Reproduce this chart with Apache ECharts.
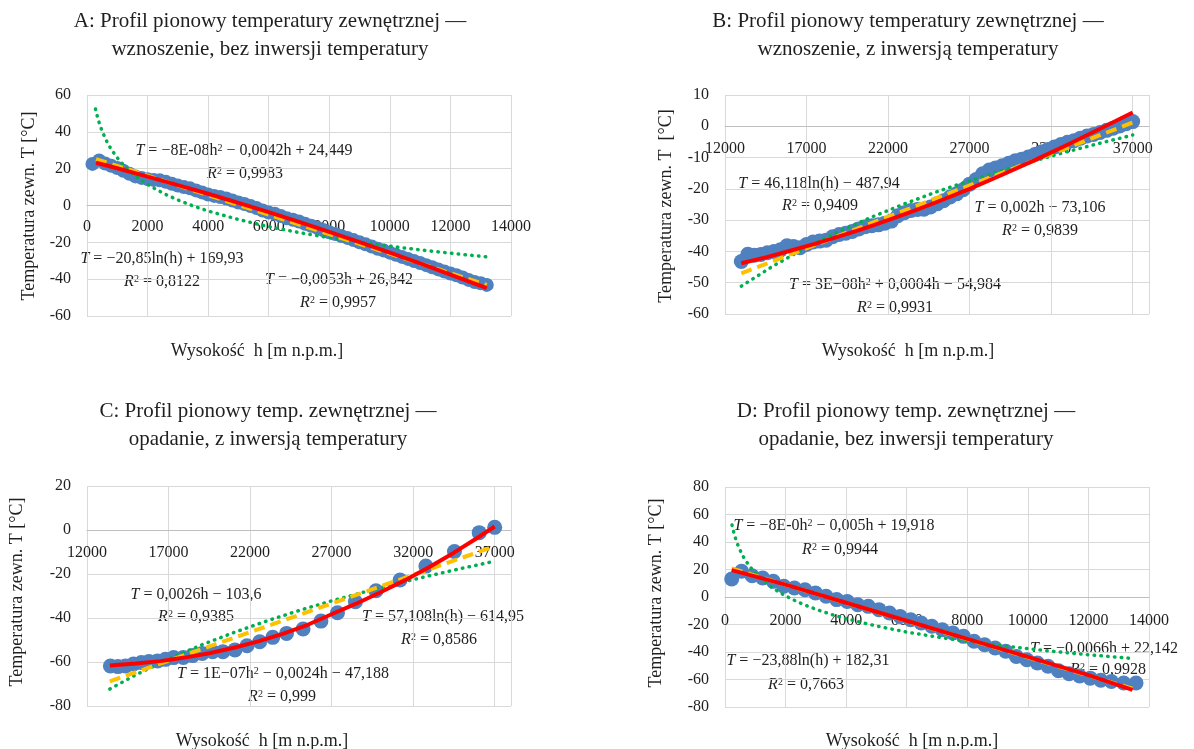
<!DOCTYPE html>
<html>
<head>
<meta charset="utf-8">
<script src="https://cdn.jsdelivr.net/npm/echarts@6/dist/echarts.min.js"></script>
<style>
  html, body { margin: 0; background: #fff; }
  #chart { width: 1194px; height: 749px; }
</style>
</head>
<body>
<div id="chart"></div>
<script>
// A: wznoszenie, bez inwersji  [h, T]
const aPoints = [[180,22.6],[400,24.4],[600,22.8],[800,21.6],[1000,20.4],[1200,18.9],[1400,17.2],[1600,15.8],[1800,15.0],[2000,14.3],[2200,13.9],[2400,13.7],[2600,12.9],[2800,11.8],[3000,10.8],[3200,10.0],[3400,9.3],[3600,8.2],[3800,7.1],[4000,6.0],[4200,5.2],[4400,4.6],[4600,3.8],[4800,2.7],[5000,1.6],[5200,0.8],[5400,-0.3],[5600,-1.4],[5800,-2.7],[6000,-3.8],[6200,-4.5],[6400,-5.7],[6600,-6.9],[6800,-7.7],[7000,-8.7],[7200,-9.9],[7400,-11.0],[7600,-12.1],[7800,-13.3],[8000,-14.5],[8200,-15.5],[8400,-16.6],[8600,-17.6],[8800,-18.8],[9000,-20.0],[9200,-21.1],[9400,-22.3],[9600,-23.5],[9800,-24.5],[10000,-25.6],[10200,-26.8],[10400,-27.9],[10600,-29.0],[10800,-30.1],[11000,-31.2],[11200,-32.4],[11400,-33.5],[11600,-34.7],[11800,-35.8],[12000,-36.9],[12200,-37.9],[12400,-39.1],[12600,-40.4],[12800,-41.5],[13000,-42.2],[13200,-43.1]]
const aPoly = [[300,23.2],[1000,20.2],[2000,15.7],[3000,11.1],[4000,6.4],[5000,1.4],[6000,-3.6],[7000,-8.9],[8000,-14.3],[9000,-19.9],[10000,-25.6],[11000,-31.4],[12000,-37.5],[13200,-44.9]]
const aLin = [[300,25.2],[13200,-43.1]]
const aLog = [[280,52.4],[330,49.0],[400,45.0],[480,41.2],[600,36.6],[700,33.3],[800,30.5],[1000,25.9],[1200,22.1],[1500,17.4],[1800,13.6],[2200,9.5],[2600,6.0],[3000,3.0],[3500,-0.2],[4000,-3.0],[5000,-7.6],[6000,-11.5],[7000,-14.7],[8000,-17.5],[9000,-19.9],[10000,-22.1],[11000,-24.1],[12000,-25.9],[13200,-27.9]]

// B: wznoszenie, z inwersją
const bPoints = [[13000,-43.2],[13400,-40.9],[13800,-41.2],[14200,-41.0],[14600,-40.4],[15000,-40.0],[15400,-39.5],[15800,-38.2],[16200,-38.4],[16600,-38.8],[17000,-37.8],[17400,-37.0],[17800,-36.7],[18200,-36.4],[18600,-35.3],[19000,-34.6],[19400,-34.2],[19800,-33.6],[20200,-32.8],[20600,-32.1],[21000,-31.8],[21400,-31.5],[21800,-31.0],[22200,-30.3],[22600,-28.6],[23000,-27.6],[23400,-26.9],[23800,-26.6],[24200,-26.5],[24600,-25.8],[25000,-24.8],[25400,-23.8],[25800,-22.6],[26200,-21.6],[26600,-20.3],[27000,-18.5],[27400,-17.0],[27800,-15.2],[28200,-14.0],[28600,-13.3],[29000,-12.6],[29400,-11.8],[29800,-11.0],[30200,-10.5],[30600,-9.8],[31000,-9.0],[31400,-8.2],[31800,-7.4],[32200,-6.6],[32600,-5.8],[33000,-5.1],[33400,-4.6],[33800,-3.8],[34200,-3.1],[34600,-2.6],[35000,-2.0],[35400,-1.3],[35800,-0.6],[36200,0.1],[36600,0.8],[37000,1.5]]
const bPoly = [[13000,-43.8],[14500,-41.9],[16000,-39.8],[17500,-37.6],[19000,-35.2],[20500,-32.7],[22000,-30.0],[23500,-27.2],[25000,-24.2],[27000,-20.0],[29000,-15.5],[31000,-10.8],[33000,-5.9],[35000,-0.8],[37000,4.4]]
const bLin = [[13000,-47.0],[37000,1.2]]
const bLog = [[13000,-51.1],[15000,-44.5],[17000,-38.7],[19000,-33.6],[21000,-29.0],[23000,-24.8],[25000,-20.9],[27000,-17.4],[29000,-14.1],[31000,-11.0],[33000,-8.1],[35000,-5.4],[37000,-2.8]]

// C: opadanie, z inwersją
const cPoints = [[13435,-61.8],[13899,-62.1],[14363,-61.8],[14848,-60.9],[15333,-60.2],[15797,-59.8],[16325,-59.5],[16810,-58.8],[17316,-58.0],[17907,-57.9],[18477,-57.1],[19068,-56.1],[19700,-55.3],[20333,-55.3],[21072,-54.5],[21810,-52.6],[22591,-50.8],[23392,-48.8],[24236,-47.0],[25249,-45.0],[26346,-41.4],[27359,-37.6],[28456,-32.6],[29722,-27.6],[31198,-22.7],[32781,-16.4],[34532,-9.8],[36051,-1.2],[37000,1.2]]
const cPoly = [[13400,-61.6],[15000,-60.7],[16500,-59.6],[18000,-58.0],[19500,-56.0],[21000,-53.5],[22500,-50.6],[24000,-47.2],[25500,-43.2],[27000,-38.3],[28500,-33.5],[30000,-28.3],[31500,-22.8],[33000,-16.8],[34500,-10.3],[36000,-3.3],[37000,1.6]]
const cLin = [[13400,-68.8],[37000,-7.4]]
const cLog = [[13400,-72.3],[15000,-65.8],[17000,-58.7],[19000,-52.3],[21000,-46.6],[23000,-41.4],[25000,-36.6],[27000,-32.2],[29000,-28.2],[31000,-24.3],[33000,-20.8],[35000,-17.4],[37000,-14.2]]

// D: opadanie, bez inwersji
const dPoints = [[221,13.1],[547,18.7],[895,15.5],[1244,13.8],[1593,11.4],[1942,7.8],[2291,6.5],[2640,5.3],[2989,2.9],[3338,0.5],[3687,-1.9],[4036,-3.2],[4384,-5.6],[4733,-6.8],[5082,-9.2],[5431,-11.6],[5780,-14.1],[6129,-16.5],[6478,-18.9],[6827,-21.3],[7176,-23.8],[7525,-26.2],[7874,-28.6],[8222,-32.2],[8571,-34.7],[8920,-37.1],[9269,-39.5],[9618,-43.2],[9967,-45.6],[10316,-48.0],[10665,-50.4],[11013,-53.6],[11362,-55.8],[11711,-57.5],[12060,-59.0],[12409,-60.5],[12758,-61.5],[13165,-62.5],[13572,-62.5]]
const dPoly = [[221,19.5],[2000,9.0],[4000,-4.2],[6000,-17.3],[8000,-30.4],[10000,-43.5],[12000,-56.8],[13456,-67.5]]
const dLin = [[221,20.7],[13456,-66.7]]
const dLog = [[230,52.4],[270,48.6],[330,43.8],[400,39.2],[480,34.9],[600,29.5],[700,25.9],[800,22.7],[1000,17.3],[1200,13.0],[1500,7.7],[1800,3.3],[2200,-1.5],[2600,-5.5],[3000,-8.9],[3500,-12.6],[4000,-15.8],[5000,-21.1],[6000,-25.5],[7000,-29.1],[8000,-32.3],[9000,-35.1],[10000,-37.6],[11000,-39.9],[12000,-42.0],[13450,-44.7]]

const titles = [
  'A: Profil pionowy temperatury zewnętrznej —\nwznoszenie, bez inwersji temperatury',
  'B: Profil pionowy temperatury zewnętrznej —\nwznoszenie, z inwersją temperatury',
  'C: Profil pionowy temp. zewnętrznej —\nopadanie, z inwersją temperatury',
  'D: Profil pionowy temp. zewnętrznej —\nopadanie, bez inwersji temperatury'
]
const xTitle = 'Wysokość  h [m n.p.m.]'
const yTitles = ['Temperatura zewn. T [°C]', 'Temperatura zewn. T  [°C]', 'Temperatura zewn. T [°C]', 'Temperatura zewn. T [°C]']
// [equation, R²] per panel
const equations = [
  [['{i|T} = −8E-08h{s|2} − 0,0042h + 24,449', '0,9983'], ['{i|T} = −20,85ln(h) + 169,93', '0,8122'], ['{i|T} = −0,0053h + 26,842', '0,9957']],
  [['{i|T} = 46,118ln(h) − 487,94', '0,9409'], ['{i|T} = 0,002h − 73,106', '0,9839'], ['{i|T} = 3E−08h{s|2} + 0,0004h − 54,984', '0,9931']],
  [['{i|T} = 0,0026h − 103,6', '0,9385'], ['{i|T} = 57,108ln(h) − 614,95', '0,8586'], ['{i|T} = 1E−07h{s|2} − 0,0024h − 47,188', '0,999']],
  [['{i|T} = −8E-0h{s|2} − 0,005h + 19,918', '0,9944'], ['{i|T} = −23,88ln(h) + 182,31', '0,7663'], ['{i|T} = −0,0066h + 22,142', '0,9928']]
]

const FONT = 'Liberation Serif'
const INK = '#1f1f1f'
const BLUE = '#4f80c0'

const grids = [
  { left: 87, top: 95, width: 424, height: 221 },
  { left: 725, top: 95, width: 424, height: 219 },
  { left: 87, top: 486, width: 424, height: 220 },
  { left: 725, top: 487, width: 424, height: 220 }
]
const xRanges = [[0, 14000, 2000], [12000, 38000, 5000], [12000, 38000, 5000], [0, 14000, 2000]]
const yRanges = [[-60, 60, 20], [-60, 10, 10], [-80, 20, 20], [-80, 80, 20]]
const xMargins = [13, 15, 15, 16]
const markerSizes = [14, 15, 15, 15]

// label positions [x, y] for equation and R² lines
const eqPos = [
  [[244, 151, 245, 174], [162, 259, 162, 282], [339, 280, 338, 303]],
  [[819, 184, 820, 206], [1040, 208, 1040, 231], [895, 285, 895, 308]],
  [[196, 595, 196, 617], [443, 617, 439, 640], [283, 674, 282, 697]],
  [[834, 526, 840, 550], [808, 661, 806, 685], [1104, 649, 1108, 670]]
]
const titlePos = [[270, 35], [908, 35], [268, 425], [906, 425]]
const xTitlePos = [[257, 351], [908, 351], [262, 741], [912, 741]]
const yTitlePos = [[29, 206], [666, 206], [17, 592], [656, 593]]

const rich = {
  i: { fontFamily: FONT, fontSize: 16, fontStyle: 'italic', fill: INK, color: INK },
  s: { fontFamily: FONT, fontSize: 10, verticalAlign: 'top', fill: INK, color: INK }
}

function text(x, y, str, size, extra) {
  return Object.assign({
    type: 'text', x: x, y: y, silent: true,
    style: {
      text: str, fill: INK, fontFamily: FONT, fontSize: size,
      align: 'center', verticalAlign: 'middle', textAlign: 'center', textVerticalAlign: 'middle',
      rich: rich
    }
  }, extra || {})
}

const graphics = []
for (let k = 0; k < 4; k++) {
  const t = text(titlePos[k][0], titlePos[k][1], titles[k], 21)
  t.style.lineHeight = 28
  graphics.push(t)
  graphics.push(text(xTitlePos[k][0], xTitlePos[k][1], xTitle, 18))
  graphics.push(text(yTitlePos[k][0], yTitlePos[k][1], yTitles[k], 18, { rotation: Math.PI / 2 }))
  equations[k].forEach((eq, j) => {
    const p = eqPos[k][j]
    graphics.push(text(p[0], p[1], eq[0], 16))
    graphics.push(text(p[2], p[3], '{i|R}{s|2} = ' + eq[1], 16))
  })
}

// x axis sits on T = 0: shift it up from the bottom of its grid
const xAxes = grids.map((g, k) => ({
  type: 'value', gridIndex: k,
  min: xRanges[k][0], max: xRanges[k][1], interval: xRanges[k][2],
  offset: -g.height * (0 - yRanges[k][0]) / (yRanges[k][1] - yRanges[k][0]),
  axisLine: { show: true, onZero: false, lineStyle: { color: '#bfbfbf', width: 1 } },
  axisTick: { show: false },
  axisLabel: {
    margin: xMargins[k], color: INK, fontFamily: FONT, fontSize: 16,
    showMaxLabel: xRanges[k][1] === 14000,
    formatter: (v) => String(v)
  },
  splitLine: { show: true, lineStyle: { color: '#d9d9d9', width: 1 } }
}))

const yAxes = grids.map((g, k) => ({
  type: 'value', gridIndex: k,
  min: yRanges[k][0], max: yRanges[k][1], interval: yRanges[k][2],
  axisLine: { show: false, onZero: false },
  axisTick: { show: false },
  axisLabel: { margin: 16, color: INK, fontFamily: FONT, fontSize: 16 },
  splitLine: { show: true, lineStyle: { color: '#d9d9d9', width: 1 } }
}))

function scatter(k, data) {
  return {
    type: 'scatter', xAxisIndex: k, yAxisIndex: k, data: data,
    symbol: 'circle', symbolSize: markerSizes[k], silent: true, z: 2,
    itemStyle: { color: BLUE, opacity: 1, borderWidth: 0 }
  }
}
function trend(k, data, lineStyle, z) {
  return {
    type: 'line', xAxisIndex: k, yAxisIndex: k, data: data,
    showSymbol: false, symbol: 'none', smooth: false,
    silent: true, z: z, lineStyle: lineStyle
  }
}
const redStyle = { color: '#ff0000', width: 4, join: 'round' }
const yellowStyle = { color: '#ffc000', width: 4, type: [11, 6] }
const greenStyle = { color: '#00b050', width: 3.5, type: [0.5, 6.3], cap: 'round' }

const sets = [
  [aPoints, aPoly, aLin, aLog],
  [bPoints, bPoly, bLin, bLog],
  [cPoints, cPoly, cLin, cLog],
  [dPoints, dPoly, dLin, dLog]
]
const series = []
sets.forEach((s, k) => {
  series.push(scatter(k, s[0]))
  series.push(trend(k, s[3], greenStyle, 3))
  series.push(trend(k, s[2], yellowStyle, 4))
  series.push(trend(k, s[1], redStyle, 5))
})

const chart = echarts.init(document.getElementById('chart'), null, { renderer: 'canvas' })
chart.setOption({
  animation: false,
  backgroundColor: '#ffffff',
  textStyle: { fontFamily: FONT },
  grid: grids.map((g) => Object.assign({ outerBoundsMode: 'none', containLabel: false }, g)),
  xAxis: xAxes,
  yAxis: yAxes,
  series: series,
  graphic: graphics
})
</script>
</body>
</html>
